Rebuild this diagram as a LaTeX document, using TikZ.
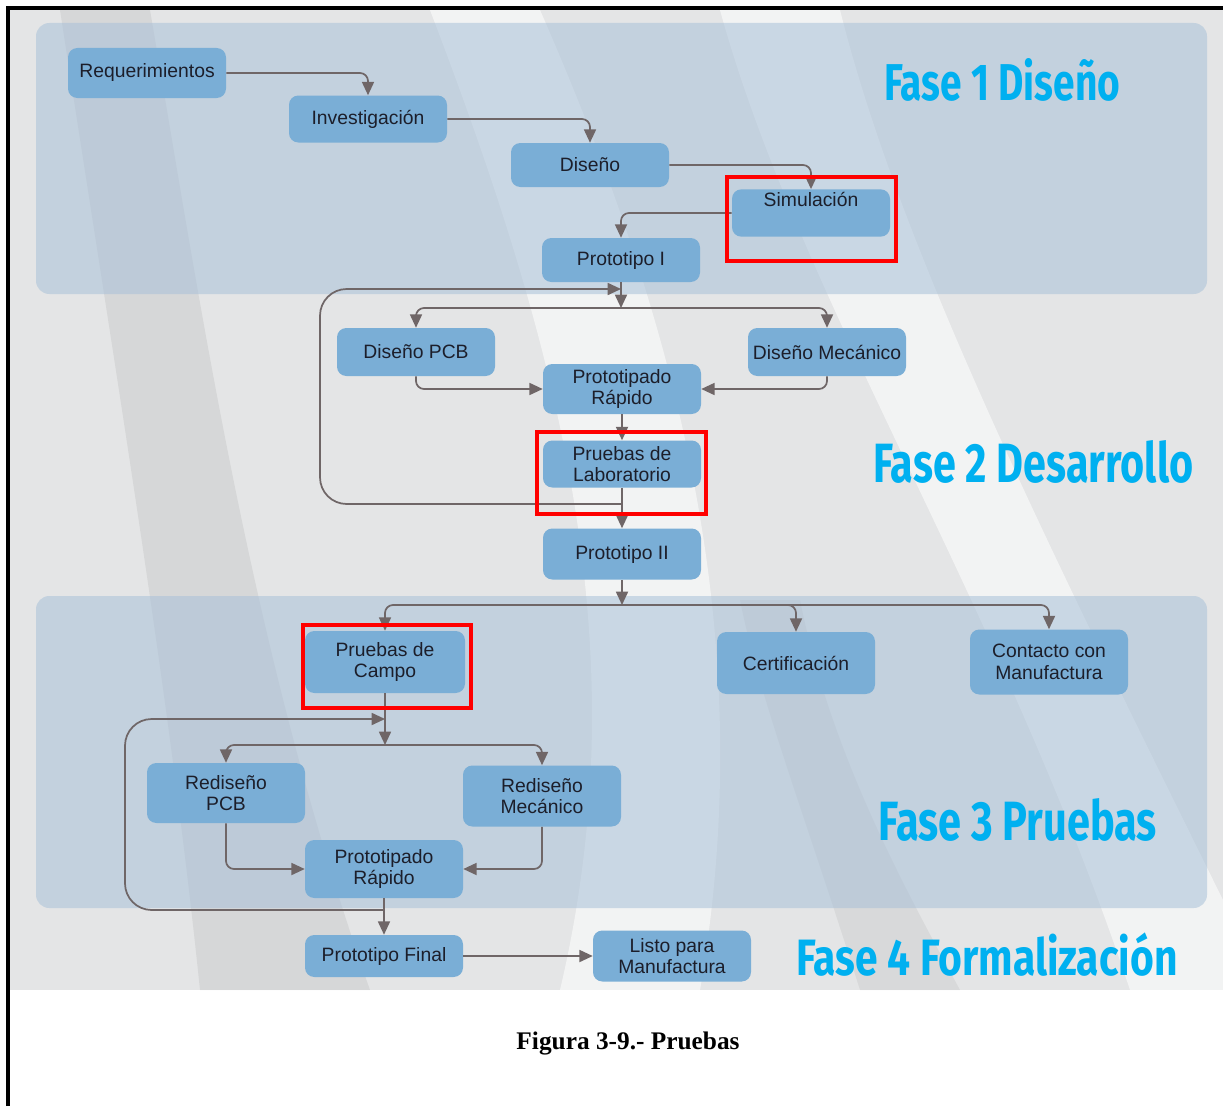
\documentclass[tikz,border=0pt]{standalone}
\usepackage{fontspec}
\usetikzlibrary{arrows.meta}

\newfontfamily\nodofam{Liberation Sans}
\newfontfamily\fasefam{Fira Sans}
\newfontfamily\titfam{Liberation Serif}

\definecolor{fondo}{HTML}{E4E5E6}
\definecolor{panel}{HTML}{A9C1D8}
\definecolor{nodoazul}{HTML}{7AAED6}
\definecolor{textonodo}{HTML}{1C1E2A}
\definecolor{lineagris}{HTML}{6F6667}
\definecolor{cianfase}{HTML}{00B0F0}

\tikzset{
  etapa/.style={rectangle, rounded corners=7pt, fill=nodoazul, text=textonodo,
    minimum width=118.5pt, align=center, inner sep=2pt,
    font=\nodofam\fontsize{14.5}{16}\selectfont},
  flecha/.style={draw=lineagris, line width=1.3pt, rounded corners=6pt,
    -{Triangle[length=10pt,width=9pt]}},
  marca/.style={draw=red, line width=3pt},
  fase/.style={text=cianfase, anchor=base west, inner sep=0pt}
}

\newcommand{\fasetxt}[3]{\resizebox{#1}{#2}{\fasefam\bfseries #3}}

\begin{document}
\begin{tikzpicture}[x=0.75pt,y=-0.75pt]
\useasboundingbox (0,0) rectangle (1223,1106);
\fill[white] (0,0) rectangle (1223,1106);
\fill[fondo] (10,10) rectangle (1223,990);

% franjas del fondo
\begin{scope}
\clip (10,10) rectangle (1223,990);
\fill[black,opacity=.06] (60,10) .. controls (120,400) and (170,700) .. (200,990)
  -- (370,990) .. controls (250,650) and (200,300) .. (150,10) -- cycle;
\fill[white,opacity=.55] (430,10) .. controls (560,350) and (640,650) .. (560,990)
  -- (700,990) .. controls (760,640) and (680,330) .. (540,10) -- cycle;
\fill[white,opacity=.55] (720,10) .. controls (800,300) and (1000,600) .. (1130,990)
  -- (1223,990) -- (1223,900) .. controls (1050,550) and (900,250) .. (840,10) -- cycle;
\fill[black,opacity=.05] (860,990) .. controls (800,800) and (760,700) .. (740,600)
  -- (800,600) .. controls (830,750) and (900,880) .. (960,990) -- cycle;
\end{scope}

% paneles de fase
\fill[panel,opacity=.55,rounded corners=10pt] (36,23) rectangle (1207,294);
\fill[panel,opacity=.55,rounded corners=10pt] (36,596) rectangle (1207,908);

% marco
\draw[line width=3pt] (8,1106) -- (8,8) -- (1223,8);

% etapas
\node[etapa, minimum height=37.5pt] (req) at (147,73) {Requerimientos};
\node[etapa, minimum height=35.25pt] (inv) at (368,119) {Investigación};
\node[etapa, minimum height=33pt] (dis) at (590,165) {Diseño};
\node[etapa, minimum height=35.25pt] (sim) at (811,213) {Simulación\\\strut};
\node[etapa, minimum height=33pt] (p1) at (621,260) {Prototipo I};
\node[etapa, minimum height=36pt] (pcb) at (416,352) {Diseño PCB};
\node[etapa, minimum height=36pt] (mec) at (827,352) {Diseño Mecánico};
\node[etapa, minimum height=37.5pt] (rap) at (622,389) {Prototipado\\Rápido};
\node[etapa, minimum height=35.25pt] (lab) at (622,464) {Pruebas de\\Laboratorio};
\node[etapa, minimum height=38.25pt] (p2) at (622,554) {Prototipo II};
\node[etapa, minimum height=46.5pt, minimum width=120pt] (campo) at (385,662) {Pruebas de\\Campo};
\node[etapa, minimum height=46.5pt] (cert) at (796,663) {Certificación};
\node[etapa, minimum height=48.75pt] (cont) at (1049,662) {Contacto con\\Manufactura};
\node[etapa, minimum height=45pt] (rpcb) at (226,793) {Rediseño\\PCB};
\node[etapa, minimum height=45.75pt] (rmec) at (542,796) {Rediseño\\Mecánico};
\node[etapa, minimum height=43.5pt] (rap2) at (384,869) {Prototipado\\Rápido};
\node[etapa, minimum height=31.5pt] (pfin) at (384,956) {Prototipo Final};
\node[etapa, minimum height=38.25pt] (listo) at (672,956) {Listo para\\Manufactura};

% conexiones fase 1
\draw[flecha] (req.east) -| (inv.north);
\draw[flecha] (inv.east) -| (dis.north);
\draw[flecha] (dis.east) -| (sim.north);
\draw[flecha] (sim.west) -| (p1.north);

% conexiones fase 2
\coordinate (ram1) at (621,308);
\draw[flecha] (p1.south) -- (ram1);
\draw[flecha] (ram1) -| (pcb.north);
\draw[flecha] (ram1) -| (mec.north);
\draw[flecha] (pcb.south) |- (rap.west);
\draw[flecha] (mec.south) |- (rap.east);
\draw[flecha] (rap.south) -- (lab.north);
\draw[flecha] (lab.south) -- (p2.north);
\draw[flecha,rounded corners=20pt] (lab.south |- 0,504) -- (320,504) -- (320,289)
  -- (p1.south |- 0,289);

% conexiones fase 3
\coordinate (ram2) at (622,605);
\draw[flecha] (p2.south) -- (ram2);
\draw[flecha] (ram2) -| (campo.north);
\draw[flecha] (ram2) -| (cert.north);
\draw[flecha] (ram2) -| (cont.north);
\coordinate (ram3) at (385,745);
\draw[flecha] (campo.south) -- (ram3);
\draw[flecha] (ram3) -| (rpcb.north);
\draw[flecha] (ram3) -| (rmec.north);
\draw[flecha] (rpcb.south) |- (rap2.west);
\draw[flecha] (rmec.south) |- (rap2.east);
\draw[flecha] (rap2.south) -- (pfin.north);
\draw[flecha,rounded corners=20pt] (rap2.south |- 0,910) -- (125,910) -- (125,719)
  -- (campo.south |- 0,719);

% fase 4
\draw[flecha] (pfin.east) -- (listo.west);

% recuadros rojos
\draw[marca] (727,177) rectangle (896,261);
\draw[marca] (537,432) rectangle (706,514);
\draw[marca] (303,625) rectangle (471,708);

% titulos de fase
\node[fase] (f1) at (884,100) {\fasetxt{177pt}{31.5pt}{Fase 1 Diseño}};
\node[fase] (f2) at (873,482) {\fasetxt{240pt}{31.5pt}{Fase 2 Desarrollo}};
\node[fase] (f3) at (878,840) {\fasetxt{209pt}{31.5pt}{Fase 3 Pruebas}};
\node[fase] (f4) at (796,975) {\fasetxt{286pt}{32pt}{Fase 4 Formalización}};

% pie de figura
\node[anchor=base, font=\titfam\bfseries\fontsize{19}{22}\selectfont] (pie) at (628,1049)
  {Figura 3-9.- Pruebas};
\end{tikzpicture}
\end{document}
